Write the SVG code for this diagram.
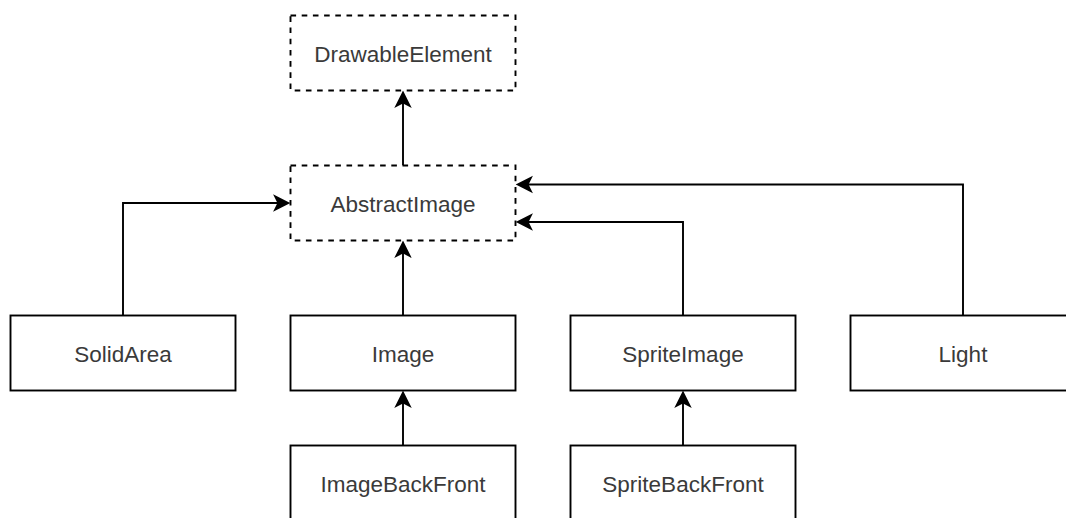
<svg xmlns="http://www.w3.org/2000/svg" width="1066" height="518" viewBox="0 0 1066 518">
  <style>
    .box { fill: #ffffff; stroke: #000000; stroke-width: 1.9; }
    .dashed { stroke-dasharray: 5.6 5.6; }
    .label { font-family: "Liberation Sans", Arial, Helvetica, sans-serif; font-size: 22.5px; fill: #3a3a3a; text-anchor: middle; }
    .edge { fill: none; stroke: #000000; stroke-width: 1.9; marker-end: url(#arrow); }
  </style>
  <defs>
    <marker id="arrow" markerUnits="userSpaceOnUse" orient="auto" refX="3.3" refY="0" markerWidth="20" markerHeight="20" overflow="visible">
      <path d="M13.1,0 L0,-6.6 L3.3,0 L0,6.6 Z" fill="#000000" stroke="#000000" stroke-width="1.9" stroke-linejoin="miter"/>
    </marker>
  </defs>
  <rect width="1066" height="518" fill="#ffffff"/>

  <g id="connectors">
    <path class="edge" d="M403,165.5 L403,102.5"/>
    <path class="edge" d="M123,315.5 L123,203 L278.5,203"/>
    <path class="edge" d="M403,315.5 L403,252.5"/>
    <path class="edge" d="M683,315.5 L683,222 L527.5,222"/>
    <path class="edge" d="M963,315.5 L963,184.5 L527.5,184.5"/>
    <path class="edge" d="M403,445.5 L403,402.5"/>
    <path class="edge" d="M683,445.5 L683,402.5"/>
  </g>

  <g id="DrawableElement">
    <rect class="box dashed" x="290.5" y="15.5" width="225" height="75"/>
    <text class="label" x="403" y="62">DrawableElement</text>
  </g>
  <g id="AbstractImage">
    <rect class="box dashed" x="290.5" y="165.5" width="225" height="75"/>
    <text class="label" x="403" y="212">AbstractImage</text>
  </g>
  <g id="SolidArea">
    <rect class="box" x="10.5" y="315.5" width="225" height="75"/>
    <text class="label" x="123" y="362">SolidArea</text>
  </g>
  <g id="Image">
    <rect class="box" x="290.5" y="315.5" width="225" height="75"/>
    <text class="label" x="403" y="362">Image</text>
  </g>
  <g id="SpriteImage">
    <rect class="box" x="570.5" y="315.5" width="225" height="75"/>
    <text class="label" x="683" y="362">SpriteImage</text>
  </g>
  <g id="Light">
    <rect class="box" x="850.5" y="315.5" width="225" height="75"/>
    <text class="label" x="963" y="362">Light</text>
  </g>
  <g id="ImageBackFront">
    <rect class="box" x="290.5" y="445.5" width="225" height="75"/>
    <text class="label" x="403" y="492">ImageBackFront</text>
  </g>
  <g id="SpriteBackFront">
    <rect class="box" x="570.5" y="445.5" width="225" height="75"/>
    <text class="label" x="683" y="492">SpriteBackFront</text>
  </g>
</svg>
